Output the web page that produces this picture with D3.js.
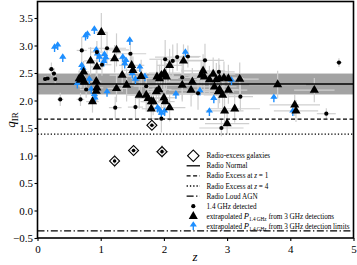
<!DOCTYPE html>
<html>
<head>
<meta charset="utf-8">
<script src="https://cdn.jsdelivr.net/npm/d3@7"></script>
<style>
  body { margin: 0; background: #fff; }
  svg { display: block; font-family: "Liberation Serif", "DejaVu Serif", serif; }
  text { fill: #000; }
</style>
</head>
<body>
<svg width="357" height="265"></svg>
<script>
// 1.4 GHz detected
var dotZ =    [0.12, 0.16, 0.22, 0.26, 0.28, 0.36, 0.68, 0.70, 0.94, 1.10, 1.47, 1.23, 1.55, 1.96, 2.14, 2.21, 2.38, 2.65, 2.87, 2.29, 2.54, 3.21, 2.91, 4.57, 4.77, 0.77, 1.02, 2.02, 1.72];
var dotQ =    [2.39, 2.40, 2.57, 2.49, 2.39, 2.02, 2.02, 2.91, 2.88, 2.95, 2.85, 1.87, 1.88, 1.67, 2.72, 2.79, 2.80, 2.73, 2.52, 2.42, 2.13, 2.07, 1.50, 1.76, 2.69, 2.20, 2.65, 2.75, 2.26];
var dotZerr = [0.02, 0.03, 0.05, 0.04, 0.03, 0.05, 0.06, 0.08, 0.10, 0.30, 0.25, 0.10, 0.12, 0.15, 0.10, 0.35, 0.20, 0.30, 0.25, 0.45, 0.30, 0.20, 0.35, 0.15, 0.05, 0.10, 0.15, 0.25, 0.20];
var dotQerr = [0.05, 0.05, 0.12, 0.10, 0.08, 0.12, 0.12, 0.25, 0.20, 0.30, 0.25, 0.20, 0.20, 0.25, 0.30, 0.25, 0.20, 0.30, 0.25, 0.40, 0.30, 0.25, 0.15, 0.10, 0.08, 0.15, 0.20, 0.35, 0.25];

// extrapolated P1.4GHz from 3 GHz detections
var triZ =    [1.01, 0.84, 0.68, 0.70, 0.73, 0.74, 0.94, 0.93, 0.94, 0.93, 0.87, 1.25, 1.22, 1.49, 1.51, 1.34, 1.64, 1.25, 1.41, 1.61, 1.72, 1.75, 1.80, 1.83, 1.80, 1.89, 1.93, 1.96, 2.01, 2.04, 1.92, 1.88, 2.31, 2.09, 2.62, 2.59, 2.64, 2.78, 2.45, 2.29, 2.72, 2.83, 2.88, 2.95, 3.02, 3.20, 2.80, 2.88, 2.86, 3.02, 2.43, 2.93, 2.09, 2.96, 3.12, 3.00, 3.80, 4.38, 4.07, 4.09, 0.66, 2.00, 2.02];
var triQ =    [3.24, 2.72, 2.37, 2.43, 2.52, 2.34, 2.61, 2.35, 2.23, 2.17, 1.98, 2.92, 2.76, 2.64, 2.55, 2.46, 2.44, 2.22, 2.28, 2.10, 2.10, 2.04, 1.98, 1.98, 1.85, 2.43, 2.40, 2.46, 2.50, 2.43, 2.20, 2.16, 2.72, 2.64, 2.54, 2.46, 2.43, 2.48, 2.34, 2.28, 2.38, 2.38, 2.40, 2.41, 2.40, 2.39, 2.25, 2.20, 2.16, 2.19, 2.19, 2.10, 1.87, 1.81, 1.85, 1.58, 2.29, 2.19, 1.92, 1.81, 2.40, 2.05, 1.98];
var triZerr = [0.08, 0.10, 0.05, 0.06, 0.08, 0.05, 0.10, 0.08, 0.10, 0.06, 0.10, 0.20, 0.15, 0.20, 0.15, 0.20, 0.25, 0.15, 0.20, 0.20, 0.25, 0.20, 0.15, 0.20, 0.15, 0.25, 0.30, 0.20, 0.25, 0.30, 0.20, 0.15, 0.30, 0.20, 0.35, 0.30, 0.25, 0.35, 0.40, 0.30, 0.25, 0.30, 0.35, 0.30, 0.25, 0.30, 0.35, 0.30, 0.25, 0.30, 0.35, 0.30, 0.25, 0.30, 0.40, 0.35, 0.45, 0.32, 0.40, 0.35, 0.05, 0.20, 0.15];
var triQerr = [0.35, 0.25, 0.15, 0.20, 0.20, 0.15, 0.25, 0.20, 0.25, 0.20, 0.20, 0.30, 0.25, 0.25, 0.25, 0.30, 0.30, 0.25, 0.30, 0.25, 0.30, 0.25, 0.20, 0.25, 0.20, 0.30, 0.25, 0.30, 0.30, 0.25, 0.25, 0.25, 0.30, 0.30, 0.30, 0.25, 0.30, 0.30, 0.25, 0.30, 0.25, 0.30, 0.25, 0.30, 0.25, 0.30, 0.25, 0.25, 0.30, 0.25, 0.30, 0.25, 0.25, 0.25, 0.25, 0.20, 0.25, 0.22, 0.20, 0.20, 0.15, 0.25, 0.25];

// extrapolated P1.4GHz from 3 GHz detection limits (lower limits)
var limZ = [0.27, 0.32, 0.40, 0.76, 0.79, 0.90, 0.93, 0.95, 1.06, 1.08, 1.05, 0.98, 0.70, 0.72, 0.85, 0.90, 0.91, 1.46, 1.35, 1.40, 1.38, 1.10, 1.50, 1.55, 1.90, 1.93, 2.01, 1.96, 2.34, 2.72, 2.19, 2.57, 2.79, 3.07, 3.74, 4.04, 1.62, 1.70, 0.63, 0.82];
var limQ = [2.88, 2.92, 2.70, 3.09, 3.12, 3.21, 2.83, 2.76, 2.75, 2.69, 2.62, 2.70, 2.55, 2.50, 2.12, 2.02, 1.96, 3.01, 2.70, 2.64, 2.58, 2.07, 2.40, 2.30, 1.78, 1.74, 1.72, 1.68, 2.79, 1.72, 2.03, 2.09, 1.95, 2.28, 1.97, 1.72, 2.52, 2.35, 2.22, 2.30];

// radio-excess galaxies
var exZ = [1.22, 1.52, 1.97, 1.81];
var exQ = [0.90, 1.09, 1.07, 1.55];
var exZerr = [0.02, 0.05, 0.10, 0.05];
var exQerr = [0.12, 0.05, 0.12, 0.04];

// reference lines
var qNormal = 2.30, qNormalLo = 2.11, qNormalHi = 2.49;
var qExcessZ1 = 1.66, qExcessZ4 = 1.39, qLoud = -0.37;

var xTicks = [0, 1, 2, 3, 4, 5];
var yTicks = [-0.5, 0.0, 0.5, 1.0, 1.5, 2.0, 2.5, 3.0, 3.5];

var svg = d3.select("svg"),
  pL = 37.5, pR = 353.5, pT = 1.5, pB = 238;

var x = d3.scaleLinear().domain([0, 5]).range([pL, pR]);
var y = d3.scaleLinear().domain([-0.5, 3.8]).range([pB, pT]);

var blue = "#1E8FFF", errCol = "#cfcfcf";

// normal band
svg.append("rect")
  .attr("x", pL).attr("width", pR - pL)
  .attr("y", y(qNormalHi)).attr("height", y(qNormalLo) - y(qNormalHi))
  .attr("fill", "#a3a3a3");

// error bars
var errs = svg.append("g").attr("stroke", errCol).attr("stroke-width", 1.2);
function drawErr(zs, qs, ze, qe) {
  zs.forEach(function (z, i) {
    errs.append("line").attr("x1", x(z - ze[i])).attr("x2", x(z + ze[i]))
      .attr("y1", y(qs[i])).attr("y2", y(qs[i]));
    errs.append("line").attr("x1", x(z)).attr("x2", x(z))
      .attr("y1", y(qs[i] - qe[i])).attr("y2", y(qs[i] + qe[i]));
  });
}
drawErr(dotZ, dotQ, dotZerr, dotQerr);
drawErr(triZ, triQ, triZerr, triQerr);
drawErr(exZ, exQ, exZerr, exQerr);

// horizontal lines
function hline(q, dash) {
  svg.append("line").attr("x1", pL).attr("x2", pR)
    .attr("y1", y(q)).attr("y2", y(q))
    .attr("stroke", "#000").attr("stroke-width", 1.3)
    .attr("stroke-dasharray", dash);
}
hline(qNormal, null);
hline(qExcessZ1, "4,2.5");
hline(qExcessZ4, "1.3,2");
hline(qLoud, "7,2.5,1.3,2.5");

// blue arrows (lower limits)
var arrowPath = "M0,0 L0,-5 M-2.3,-4 L0,-7.5 L2.3,-4 Z";
svg.append("g").selectAll("path").data(limZ).enter().append("path")
  .attr("transform", function (d, i) { return "translate(" + x(d) + "," + y(limQ[i]) + ")"; })
  .attr("d", arrowPath)
  .attr("fill", blue).attr("stroke", blue).attr("stroke-width", 1.4);

// triangles
var tri = d3.symbol().type(d3.symbolTriangle).size(36);
svg.append("g").selectAll("path").data(triZ).enter().append("path")
  .attr("transform", function (d, i) { return "translate(" + x(d) + "," + y(triQ[i]) + ")"; })
  .attr("d", tri).attr("fill", "#000");

// dots
svg.append("g").selectAll("circle").data(dotZ).enter().append("circle")
  .attr("cx", function (d) { return x(d); })
  .attr("cy", function (d, i) { return y(dotQ[i]); })
  .attr("r", 2.1).attr("fill", "#000");

// radio-excess diamonds
var diamond = d3.symbol().type(d3.symbolSquare).size(50);
var ex = svg.append("g");
exZ.forEach(function (z, i) {
  ex.append("path")
    .attr("transform", "translate(" + x(z) + "," + y(exQ[i]) + ") rotate(45)")
    .attr("d", diamond).attr("fill", "none").attr("stroke", "#000").attr("stroke-width", 1.1);
  ex.append("circle").attr("cx", x(z)).attr("cy", y(exQ[i])).attr("r", 1.8).attr("fill", "#000");
});

// axes
var xAxis = svg.append("g").attr("transform", "translate(0," + pB + ")")
  .call(d3.axisBottom(x).tickValues(xTicks).tickFormat(d3.format("d")).tickSize(3));
var yAxis = svg.append("g").attr("transform", "translate(" + pL + ",0)")
  .call(d3.axisLeft(y).tickValues(yTicks).tickFormat(function (d) { return d < 0 ? "\u2212" + Math.abs(d).toFixed(1) : d.toFixed(1); }).tickSize(3));
[xAxis, yAxis].forEach(function (a) {
  a.select(".domain").remove();
  a.selectAll("line").attr("stroke", "#000").attr("stroke-width", 1.1);
  a.selectAll("text").style("font-family", "Liberation Serif").style("font-size", "11px").attr("fill", "#000");
});
xAxis.selectAll("text").attr("dy", "0.85em");
yAxis.selectAll("text").attr("x", -4.5);

svg.append("rect").attr("x", pL).attr("y", pT)
  .attr("width", pR - pL).attr("height", pB - pT)
  .attr("fill", "none").attr("stroke", "#000").attr("stroke-width", 1.6);

// axis labels
svg.append("text").attr("x", 195).attr("y", 261).attr("text-anchor", "middle")
  .style("font-size", "13px").style("font-style", "italic").text("z");
var yl = svg.append("text").attr("transform", "translate(15,120) rotate(-90)")
  .attr("text-anchor", "middle").style("font-size", "13px");
yl.append("tspan").style("font-style", "italic").text("q");
yl.append("tspan").attr("dy", 3).style("font-size", "9px").text("IR");

// legend
var lg = svg.append("g").style("font-size", "7.2px").attr("fill", "#000");
var lx = 193.3, tx = 206.5, ly0 = 155.7, lstep = 10.1;
var legendLabels = [
  ["Radio-excess galaxies"],
  ["Radio Normal"],
  ["Radio Excess at ", "z", " = 1"],
  ["Radio Excess at ", "z", " = 4"],
  ["Radio Loud AGN"],
  ["1.4 GHz detected"],
  ["extrapolated ", "P", "1.4 GHz", " from 3 GHz detections"],
  ["extrapolated ", "P", "1.4 GHz", " from 3 GHz detection limits"]
];
legendLabels.forEach(function (parts, i) {
  var yy = ly0 + i * lstep;
  var t = lg.append("text").attr("x", tx).attr("y", yy + 2.5).attr("fill", "#000");
  if (parts.length === 3) {
    t.append("tspan").text(parts[0]);
    t.append("tspan").style("font-style", "italic").text(parts[1]);
    t.append("tspan").text(parts[2]);
  } else if (parts.length === 4) {
    t.append("tspan").text(parts[0]);
    t.append("tspan").style("font-style", "italic").style("font-size", "8.6px").text(parts[1]);
    t.append("tspan").attr("dy", 1.8).style("font-size", "5.2px").text(parts[2]);
    t.append("tspan").attr("dy", -1.8).text(parts[3]);
  } else {
    t.text(parts[0]);
  }
});
lg.append("path").attr("transform", "translate(" + lx + "," + ly0 + ") rotate(45)")
  .attr("d", d3.symbol().type(d3.symbolSquare).size(66)).attr("fill", "none")
  .attr("stroke", "#000").attr("stroke-width", 1.1);
[[null, 1], ["4,2.5", 2], ["1.3,2", 3], ["7,2.5,1.3,2.5", 4]].forEach(function (d) {
  lg.append("line").attr("x1", lx - 6.7).attr("x2", lx + 6.7)
    .attr("y1", ly0 + d[1] * lstep).attr("y2", ly0 + d[1] * lstep)
    .attr("stroke", "#000").attr("stroke-width", 1.3).attr("stroke-dasharray", d[0]);
});
lg.append("circle").attr("cx", lx).attr("cy", ly0 + 5 * lstep).attr("r", 2.1).attr("fill", "#000");
lg.append("path").attr("transform", "translate(" + lx + "," + (ly0 + 6 * lstep) + ")").attr("d", tri).attr("fill", "#000");
lg.append("path").attr("transform", "translate(" + lx + "," + (ly0 + 7 * lstep + 3.5) + ")")
  .attr("d", arrowPath).attr("fill", blue).attr("stroke", blue).attr("stroke-width", 1.4);
</script>
</body>
</html>
